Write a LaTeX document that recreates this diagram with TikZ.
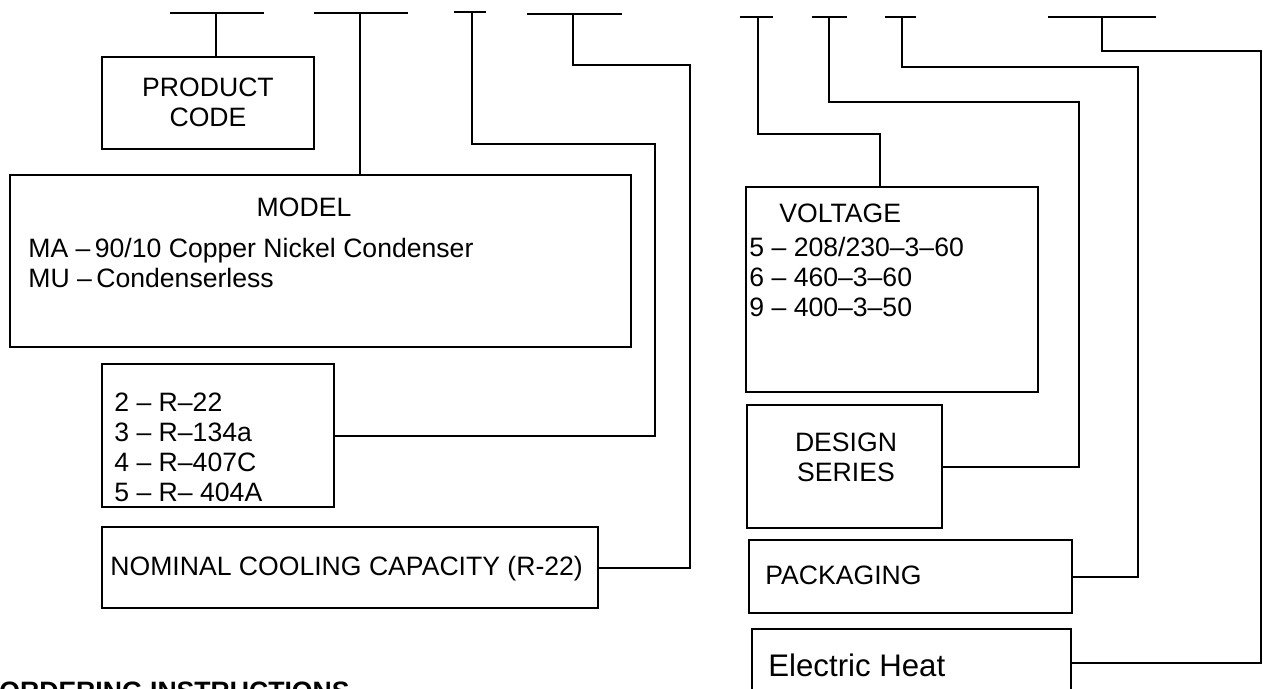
\documentclass[tikz,border=0pt]{standalone}
\usepackage{fontspec}
\setmainfont{Liberation Sans}
\usetikzlibrary{fit}

\tikzset{
  box/.style={draw,line width=1pt,inner sep=0pt},
  txt/.style={inner sep=0pt,font=\fontsize{13.3}{15}\selectfont},
  link/.style={line width=1pt},
  bar/.style={line width=1.1pt}
}

\begin{document}
\begin{tikzpicture}[x=.5pt,y=-.5pt]
\useasboundingbox (0,0) rectangle (1263,689);
\draw[bar] (170,13) -- (264,13);
\draw[bar] (314,13) -- (408,13);
\draw[bar] (454,12) -- (486,12);
\draw[bar] (527,14) -- (622,14);
\draw[bar] (740,17) -- (773,17);
\draw[bar] (812,17) -- (847,17);
\draw[bar] (885,17) -- (916,17);
\draw[bar] (1048,17) -- (1156,17);
\coordinate (s1) at (216,13);
\coordinate (s2) at (360,13);
\coordinate (s3) at (472,12);
\coordinate (s4) at (573,14);
\coordinate (s5) at (758,17);
\coordinate (s6) at (829,17);
\coordinate (s7) at (902,17);
\coordinate (s8) at (1102,17);
\coordinate (k3) at (655,144);
\coordinate (k4) at (690,65);
\coordinate (k5) at (880,134);
\coordinate (k6) at (1079,102);
\coordinate (k7) at (1138,67);
\coordinate (k8) at (1261,51);
\node[box,fit={(102,57) (314,149)}] (code) {};
\node[box,fit={(10,175) (631,347)}] (model) {};
\node[box,fit={(102,364) (334,507)}] (refrig) {};
\node[box,fit={(102,527) (598,608)}] (cap) {};
\node[box,fit={(746,187) (1038,392)}] (volt) {};
\node[box,fit={(747,405) (942,528)}] (design) {};
\node[box,fit={(749,540) (1072,613)}] (pack) {};
\node[box,fit={(752,629) (1071,697)}] (heat) {};
\node[txt,anchor=north,align=center] (codetxt) at (208,78) {PRODUCT\\CODE};
\node[txt,anchor=base] (modeltxt) at (304,217) {MODEL};
\node[txt,anchor=north west,align=left] (modellist) at (28,238) {MA –\,90/10 Copper Nickel Condenser\\MU –\,Condenserless};
\node[txt,anchor=north west,align=left] (refriglist) at (114,393) {2 – R–22\\3 – R–134a\\4 – R–407C\\5 – R– 404A};
\node[txt,anchor=base west] (captxt) at (110,575) {NOMINAL COOLING CAPACITY (R-22)};
\node[txt,anchor=base west] (volttxt) at (779,223) {VOLTAGE};
\node[txt,anchor=north west,align=left] (voltlist) at (749,237) {5 – 208/230–3–60\\6 – 460–3–60\\9 – 400–3–50};
\node[txt,anchor=north,align=center] (designtxt) at (846,433) {DESIGN\\SERIES};
\node[txt,anchor=base west] (packtxt) at (765,584) {PACKAGING};
\node[txt,anchor=base west,font=\fontsize{15.6}{18}\selectfont] (heattxt) at (768,676) {Electric Heat};
\node[txt,anchor=base west,font=\fontsize{13.3}{15}\selectfont\bfseries] (order) at (-1,700) {ORDERING INSTRUCTIONS};
\draw[link] (s1) -- (s1 |- code.north);
\draw[link] (s2) -- (s2 |- model.north);
\draw[link] (s3) |- (k3) |- (refrig.east);
\draw[link] (s4) |- (k4) |- (cap.east);
\draw[link] (s5) |- (k5) -- (k5 |- volt.north);
\draw[link] (s6) |- (k6) |- (design.east);
\draw[link] (s7) |- (k7) |- (pack.east);
\draw[link] (s8) |- (k8) |- (heat.east);
\end{tikzpicture}
\end{document}
